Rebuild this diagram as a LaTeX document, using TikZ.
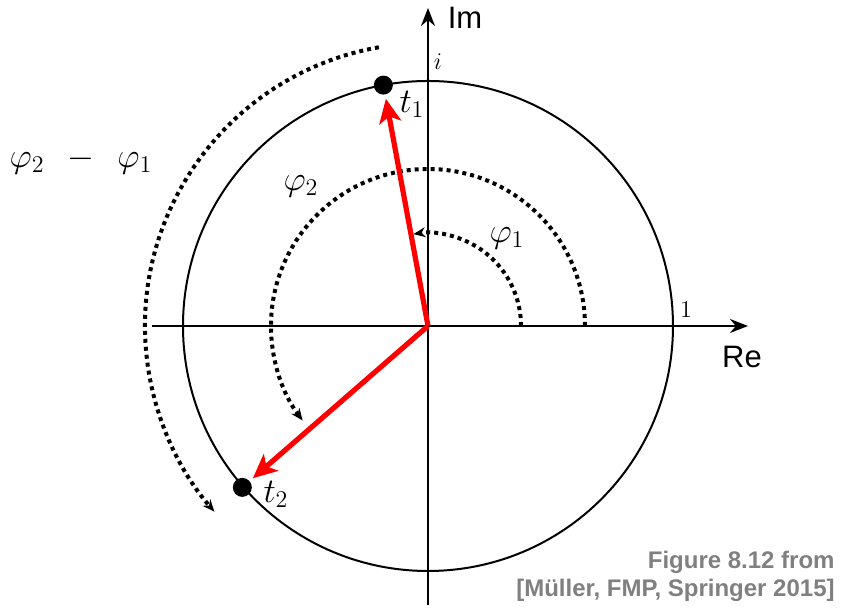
\documentclass[tikz,border=0pt]{standalone}
\usepackage{fontspec}
\newfontfamily\capfont{Liberation Sans}
\usetikzlibrary{arrows.meta}
\definecolor{capgray}{RGB}{128,128,128}
\begin{document}
\begin{tikzpicture}[x=0.5pt,y=0.5pt,
  axis/.style={line width=1pt,-{Stealth[length=9pt,width=7pt]}},
  vec/.style={red,line width=2.6pt,-{Stealth[length=12pt,width=11pt,inset=3pt]}},
  dotarc/.style={line width=2pt,dash pattern=on 2pt off 2pt,-{Stealth[length=6pt,width=5pt]}},
  pt/.style={circle,fill=black,inner sep=0pt,minimum size=9.5pt},
  lbl/.style={font=\fontsize{18.5}{22}\selectfont,inner sep=0pt},
  small/.style={font=\fontsize{13}{15}\selectfont,inner sep=0pt},
  sans/.style={font=\capfont\fontsize{15.5}{18}\selectfont,inner sep=0pt}]
\useasboundingbox (-428,-287) rectangle (415,326);
\coordinate (O) at (0,0);
\coordinate (xl) at (-276,0);
\coordinate (xr) at (320,0);
\coordinate (yb) at (0,-279);
\coordinate (yt) at (0,318);
\draw[line width=1pt] (O) circle[radius=245];
\draw[axis] (xl) -- (xr);
\draw[axis] (yb) -- (yt);
% dotted arcs
\draw[dotarc] (0:93) arc[start angle=0,end angle=99,radius=93];
\draw[dotarc] (0:157) arc[start angle=0,end angle=217,radius=157];
\draw[dotarc] (100:283) arc[start angle=100,end angle=221,radius=283];
% points
\node[pt] (t1) at (100.5:245) {};
\node[pt] (t2) at (221:246) {};
\draw[vec,shorten >=2pt] (O) -- (t1);
\draw[vec,shorten >=2pt] (O) -- (t2);
% labels
\node[sans] (im) at (37,308) {Im};
\node[sans] (re) at (314,-31) {Re};
\node[small] (i) at (10,264) {$i$};
\node[small] (one) at (258,16) {$1$};
\node[lbl] (lt1) at (-16,222) {$t_1$};
\node[lbl] (lt2) at (-152,-168) {$t_2$};
\node[lbl] (p1) at (79,88) {$\varphi_1$};
\node[lbl] (p2) at (-127,140) {$\varphi_2$};
\node[lbl] (p21) at (-347,165) {$\varphi_2\,\;-\;\,\varphi_1$};
\node[font=\capfont\bfseries\fontsize{12}{14}\selectfont,text=capgray,align=right,anchor=east,inner sep=0pt] (cap) at (407,-250) {Figure 8.12 from\\{}[Müller, FMP, Springer 2015]};
\end{tikzpicture}
\end{document}
